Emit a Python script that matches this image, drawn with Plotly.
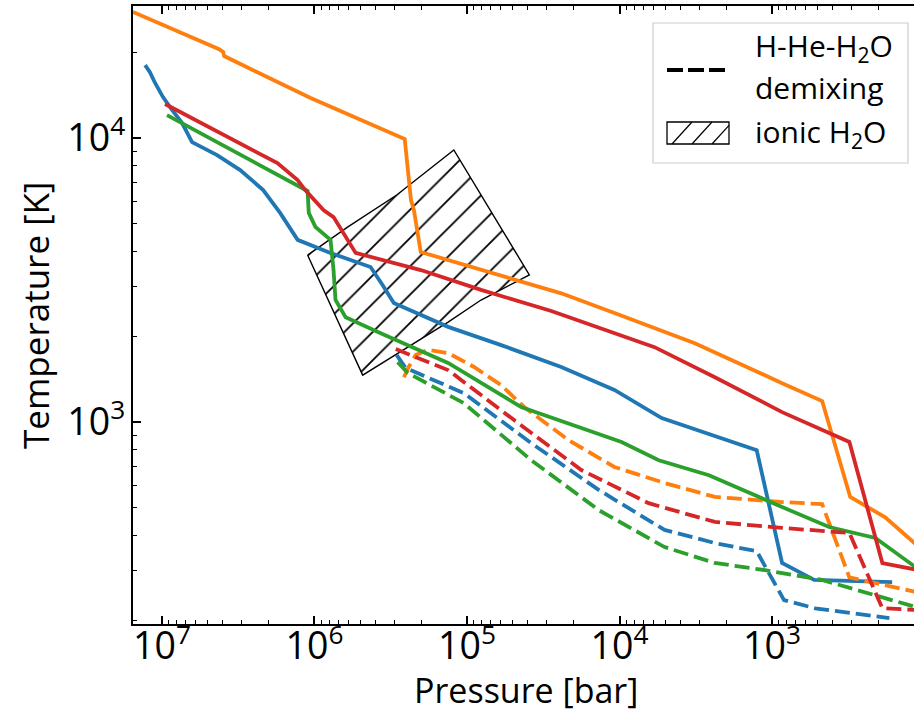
import plotly.graph_objects as go

# ---------------- data (pressure in bar, temperature in K) ----------------
p_blue = [1.29e7, 1.20e7, 1.11e7, 9.85e6, 8.86e6, 7.38e6, 6.35e6, 4.35e6, 3.07e6, 2.17e6,
          1.68e6, 1.29e6, 7.85e5, 4.29e5, 3.57e5, 3.02e5, 1.33e5, 5.97e4, 2.41e4, 1.08e4,
          5.29e3, 1.26e3, 859, 529, 163]
t_blue = [18070, 17060, 15630, 13940, 12850, 11290, 9680, 8710, 7710, 6560,
          5450, 4380, 3940, 3514, 3034, 2625, 2164, 1866, 1563, 1297,
          1033, 796, 319, 278, 273]

p_orange = [1.55e7, 4.22e6, 3.97e6, 3.91e6, 1.06e6, 2.56e5, 2.33e5, 2.23e5, 2.01e5, 8.09e4,
            2.41e4, 1.08e4, 3.21e3, 859, 469, 307, 181, 103]
t_orange = [27800, 20560, 20090, 19440, 13830, 9920, 6050, 5580, 3970, 3430,
            2840, 2420, 1896, 1371, 1186, 545, 462, 354]

p_green = [9.27e6, 1.18e6, 1.11e6, 1.09e6, 9.85e5, 7.85e5, 7.50e5, 7.28e5, 6.25e5, 3.68e5,
           1.33e5, 4.42e4, 9.70e3, 5.53e3, 2.59e3, 859, 422, 210, 113, 103]
t_green = [12050, 6670, 6510, 5450, 4860, 4380, 3430, 2690, 2340, 2055,
           1615, 1130, 851, 734, 650, 502, 427, 391, 308, 296]

p_red = [9.55e6, 1.75e6, 1.29e6, 1.15e6, 8.73e5, 7.50e5, 5.37e5, 2.01e5, 8.09e4, 2.80e4,
         5.89e3, 2.37e3, 859, 311, 189, 113, 103]
t_red = [13180, 8160, 7110, 6560, 5580, 5270, 3940, 3430, 2920, 2460,
         1836, 1439, 1084, 851, 319, 301, 299]

# demixing curves (dashed)
p_blue_dmx = [2.89e5, 2.52e5, 1.05e5, 3.79e4, 1.37e4, 5.06e3, 2.37e3, 1.26e3, 834, 521, 170]
t_blue_dmx = [1722, 1549, 1265, 843, 577, 417, 375, 351, 236, 221, 204]

p_orange_dmx = [2.59e5, 2.41e5, 2.17e5, 1.81e5, 1.33e5, 8.99e4, 5.97e4, 4.22e4, 2.17e4, 1.08e4,
                5.06e3, 2.37e3, 859, 469, 311, 113]
t_orange_dmx = [1439, 1563, 1722, 1795, 1750, 1563, 1349, 1130, 865, 695,
                610, 545, 523, 514, 284, 252]

p_green_dmx = [2.85e5, 2.44e5, 1.05e5, 3.79e4, 1.37e4, 5.06e3, 2.37e3, 1.11e3, 469, 113]
t_green_dmx = [1626, 1489, 1166, 734, 490, 363, 319, 301, 278, 223]

p_red_dmx = [2.93e5, 1.33e5, 4.91e4, 1.78e4, 6.44e3, 2.37e3, 859, 311, 189, 113]
t_red_dmx = [1807, 1524, 1016, 678, 518, 445, 424, 407, 221, 218]

# ionic water region (outline)
p_ionic = [1.11e6, 6.07e5, 2.89e5, 1.22e5, 3.90e4, 8.09e4, 1.33e5, 2.59e5, 4.83e5, 1.11e6]
t_ionic = [3873, 4860, 6300, 9080, 3297, 2690, 2249, 1795, 1463, 3873]

colors = {"blue": "#1f77b4", "orange": "#ff7f0e", "green": "#2ca02c", "red": "#d62728"}
FONT = "Open Sans"
LW = 3.8
DASH = "15px,6px"

fig = go.Figure()

fig.add_trace(go.Scatter(
    x=p_ionic, y=t_ionic, mode="lines", fill="toself",
    line=dict(color="black", width=1.4),
    fillcolor="rgba(0,0,0,0)",
    fillpattern=dict(shape="/", fgcolor="black", fgopacity=1, bgcolor="rgba(0,0,0,0)",
                     size=20, solidity=0.09),
    showlegend=False, hoverinfo="skip"))

solids = [("blue", p_blue, t_blue), ("orange", p_orange, t_orange),
          ("green", p_green, t_green), ("red", p_red, t_red)]
dashed = [("blue", p_blue_dmx, t_blue_dmx), ("orange", p_orange_dmx, t_orange_dmx),
          ("green", p_green_dmx, t_green_dmx), ("red", p_red_dmx, t_red_dmx)]

for (c, px, ty), (_, pd_, td) in zip(solids, dashed):
    fig.add_trace(go.Scatter(x=px, y=ty, mode="lines",
                             line=dict(color=colors[c], width=LW),
                             showlegend=False))
    fig.add_trace(go.Scatter(x=pd_, y=td, mode="lines",
                             line=dict(color=colors[c], width=LW, dash=DASH),
                             showlegend=False))

# ---------------- layout ----------------
L, R, T, B = 133, 914, 6, 624
W, H = 914, 715
pw, ph = R - L, B - T


def px2paper(x, y):
    return (x - L) / pw, (B - y) / ph


axis_common = dict(
    type="log", showgrid=False, zeroline=False,
    linecolor="black", linewidth=1.5,
    ticks="inside", ticklen=8, tickwidth=1.5, tickcolor="black",
    exponentformat="power", dtick=1,
    tickfont=dict(family=FONT, size=30, color="black"),
    minor=dict(ticks="inside", ticklen=4, tickwidth=1, tickcolor="black",
               dtick="D1", showgrid=False),
)

fig.update_layout(
    width=W, height=H,
    margin=dict(l=L, r=W - R, t=T, b=H - B),
    paper_bgcolor="white", plot_bgcolor="white",
    font=dict(family=FONT, color="black"),
    showlegend=False,
    xaxis=dict(axis_common, range=[7.190, 2.069], mirror="ticks", ticklabelstandoff=-10),
    yaxis=dict(axis_common, range=[2.289, 4.465], mirror=False),
)

# axis titles
tx, ty_ = px2paper(526, 690)
fig.add_annotation(xref="paper", yref="paper", x=tx, y=ty_, xanchor="center", yanchor="middle",
                   showarrow=False, text="Pressure [bar]",
                   font=dict(family=FONT, size=34, color="black"))
tx, ty_ = px2paper(36, 316)
fig.add_annotation(xref="paper", yref="paper", x=tx, y=ty_, xanchor="center", yanchor="middle",
                   showarrow=False, text="Temperature [K]", textangle=-90,
                   font=dict(family=FONT, size=35, color="black"))

# ---------------- manual legend ----------------
shapes = []
x0, y0 = px2paper(653, 163)
x1, y1 = px2paper(908, 23)
shapes.append(dict(type="rect", xref="paper", yref="paper", x0=x0, y0=y0, x1=x1, y1=y1,
                   line=dict(color="#cccccc", width=1.2),
                   fillcolor="rgba(255,255,255,0.85)", layer="above"))
lx0, ly = px2paper(667, 70)
lx1, _ = px2paper(727, 70)
shapes.append(dict(type="line", xref="paper", yref="paper", x0=lx0, y0=ly, x1=lx1, y1=ly,
                   line=dict(color="black", width=LW, dash="16px,5px"), layer="above"))
hx0, hy0 = px2paper(667, 144)
hx1, hy1 = px2paper(729, 122)
shapes.append(dict(type="rect", xref="paper", yref="paper", x0=hx0, y0=hy0, x1=hx1, y1=hy1,
                   line=dict(color="black", width=1.3), layer="above"))
for bx in (672, 692, 712):
    sx0, sy0 = px2paper(bx, 144)
    sx1, sy1 = px2paper(min(bx + 20, 729), 144 - min(20, 729 - bx) * 22 / 20)
    shapes.append(dict(type="line", xref="paper", yref="paper", x0=sx0, y0=sy0, x1=sx1, y1=sy1,
                       line=dict(color="black", width=1.2), layer="above"))
fig.update_layout(shapes=shapes)

for text, yy in (("H-He-H<sub>2</sub>O", 47), ("demixing", 88), ("ionic H<sub>2</sub>O", 133)):
    ax, ay = px2paper(753, yy)
    fig.add_annotation(xref="paper", yref="paper", x=ax, y=ay, xanchor="left", yanchor="middle",
                       align="left", showarrow=False, text=text,
                       font=dict(family=FONT, size=30, color="black"))

fig.write_html("out.html")
